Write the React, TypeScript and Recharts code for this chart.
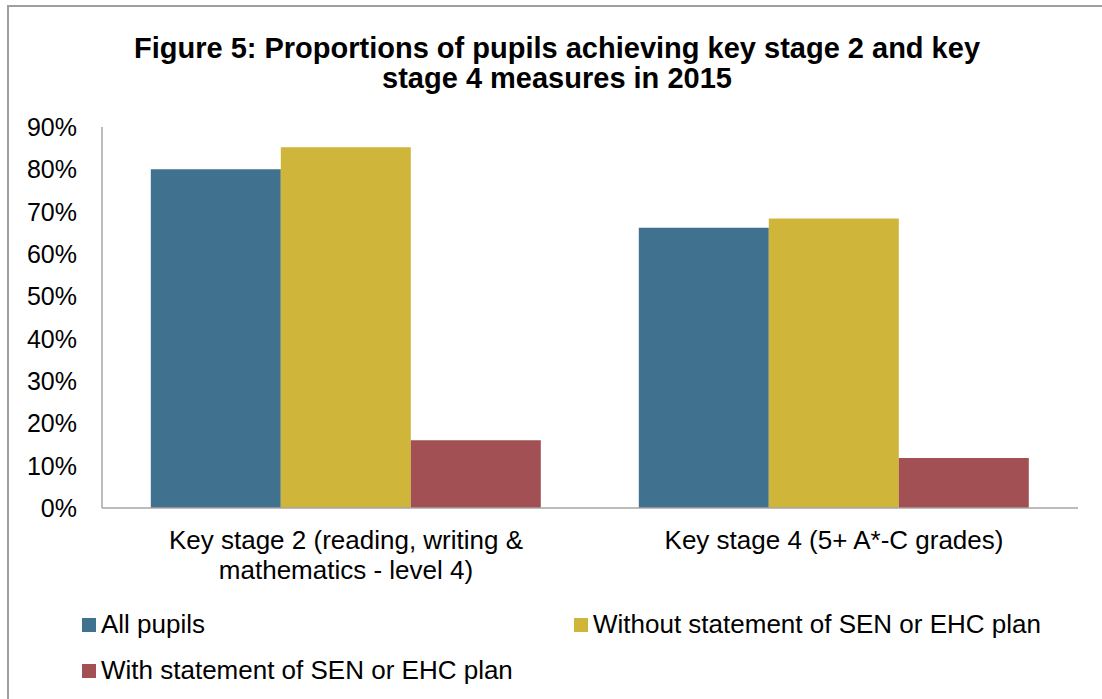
import { BarChart, Bar, XAxis, YAxis } from "recharts";

// Figure 5 — KS2 / KS4 attainment 2015
const categories = [
  "Key stage 2 (reading, writing & mathematics - level 4)",
  "Key stage 4 (5+ A*-C grades)",
];
const tickLines = [
  ["Key stage 2 (reading, writing &", "mathematics - level 4)"],
  ["Key stage 4 (5+ A*-C grades)"],
];
const allPupils = [0.80, 0.662];
const withoutStatement = [0.852, 0.684];
const withStatement = [0.16, 0.118];
const yTicks = [0, 0.1, 0.2, 0.3, 0.4, 0.5, 0.6, 0.7, 0.8, 0.9];

const series = [
  { key: "all", name: "All pupils", color: "#40718f" },
  { key: "without", name: "Without statement of SEN or EHC plan", color: "#cfb539" },
  { key: "with", name: "With statement of SEN or EHC plan", color: "#a25053" },
];

const data = categories.map((c, i) => ({
  category: c,
  all: allPupils[i],
  without: withoutStatement[i],
  with: withStatement[i],
}));

const FONT = "'Liberation Sans', Arial, sans-serif";
const AXIS = "#a6a6a6";

function CategoryTick(props: any) {
  const { x, y, index } = props;
  const lines = tickLines[index] || [];
  return (
    <text x={x} y={y} textAnchor="middle" fontSize={26} fontFamily={FONT} fill="#000">
      {lines.map((l, i) => (
        <tspan key={i} x={x} y={y + 41 + i * 30}>{l}</tspan>
      ))}
    </text>
  );
}

// legend placement, two columns like the Excel original
const legendPos = [
  { left: 82, top: 618 },
  { left: 574, top: 618 },
  { left: 82, top: 664 },
];

export default function App() {
  return (
    <div style={{ position: "relative", width: 1102, height: 699, overflow: "hidden", background: "#fff", fontFamily: FONT }}>
      <style>{"body{margin:0;overflow:hidden}"}</style>
      <div style={{ position: "absolute", left: 7, top: 5, width: 1200, height: 800, borderTop: "2px solid #9f9f9f", borderLeft: "2px solid #9f9f9f" }} />

      <div style={{ position: "absolute", left: 6, top: 33, width: 1102, textAlign: "center", fontSize: 29, lineHeight: "30px", fontWeight: "bold", color: "#000" }}>
        Figure 5: Proportions of pupils achieving key stage 2 and key
        <br />
        stage 4 measures in 2015
      </div>

      <div style={{ position: "absolute", left: 0, top: 0 }}>
        <BarChart
          width={1102}
          height={699}
          data={data}
          margin={{ top: 127, right: 24, bottom: 111, left: 0 }}
          barCategoryGap="10%"
          barGap={0}
        >
          <XAxis
            dataKey="category"
            height={80}
            stroke={AXIS}
            strokeWidth={1.5}
            tickLine={false}
            tickSize={0}
            tickMargin={0}
            interval={0}
            tick={<CategoryTick />}
          />
          <YAxis
            width={102}
            domain={[0, 0.9]}
            ticks={yTicks}
            stroke={AXIS}
            strokeWidth={1.5}
            tickLine={false}
            tickSize={0}
            tickMargin={25}
            tickFormatter={(v: number) => `${Math.round(v * 100)}%`}
            tick={{ fill: "#000", fontSize: 25, fontFamily: FONT }}
          />
          {series.map((s) => (
            <Bar key={s.key} dataKey={s.key} name={s.name} fill={s.color} isAnimationActive={false} />
          ))}
        </BarChart>
      </div>

      {series.map((s, i) => (
        <div key={s.key}>
          <div style={{ position: "absolute", left: legendPos[i].left, top: legendPos[i].top, width: 14, height: 14, background: s.color }} />
          <div style={{ position: "absolute", left: legendPos[i].left + 19, top: legendPos[i].top - 9, fontSize: 26, lineHeight: "30px", color: "#000", whiteSpace: "nowrap" }}>
            {s.name}
          </div>
        </div>
      ))}
    </div>
  );
}
